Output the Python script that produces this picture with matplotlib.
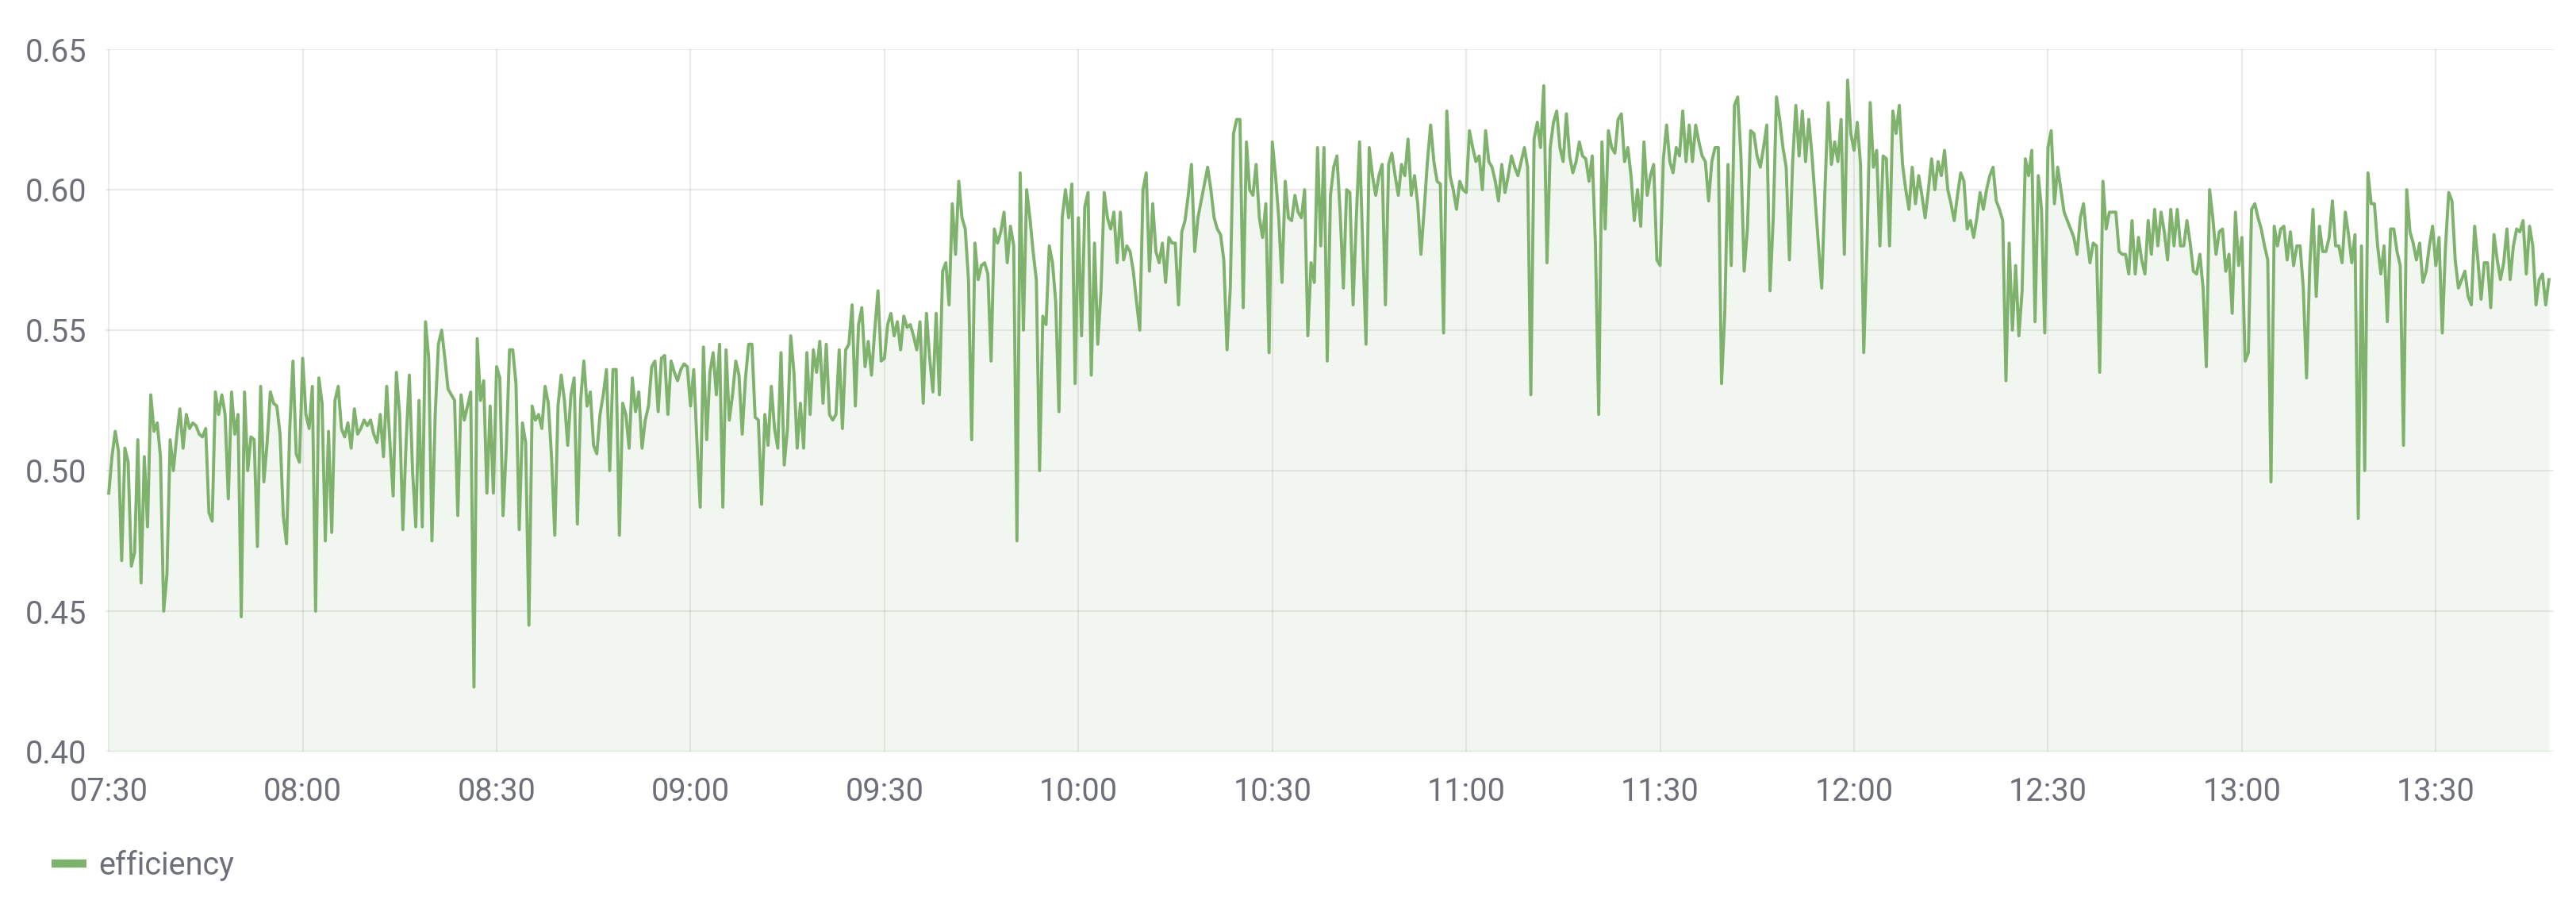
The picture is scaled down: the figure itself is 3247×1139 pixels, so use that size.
import matplotlib
matplotlib.use("Agg")
import matplotlib.pyplot as plt
import matplotlib.dates as mdates
from matplotlib.lines import Line2D
import pandas as pd

plt.rcParams['font.family'] = ['Roboto', 'DejaVu Sans']

# ---------------- data ----------------
series_name = "efficiency"
start_time = "2020-01-01 07:30:00"
sample_interval = "30s"
y_ticks = [0.40, 0.45, 0.50, 0.55, 0.60, 0.65]
x_tick_labels = ["07:30", "08:00", "08:30", "09:00", "09:30", "10:00",
                 "10:30", "11:00", "11:30", "12:00", "12:30", "13:00", "13:30"]

eff_0730 = [
    0.492, 0.505, 0.514, 0.507, 0.468, 0.508, 0.503, 0.466, 0.471, 0.511,
    0.460, 0.505, 0.480, 0.527, 0.514, 0.517, 0.505, 0.450, 0.463, 0.511,
    0.500, 0.512, 0.522, 0.508, 0.520, 0.515, 0.517, 0.516, 0.513, 0.512,
    0.515, 0.485, 0.482, 0.528, 0.520, 0.527, 0.520, 0.490, 0.528, 0.513,
    0.520, 0.448, 0.528, 0.500, 0.512, 0.511, 0.473, 0.530, 0.496, 0.510,
    0.528, 0.524, 0.523, 0.513, 0.484, 0.474, 0.515, 0.539, 0.506, 0.503,
    0.540, 0.520, 0.515, 0.530, 0.450, 0.533, 0.524, 0.475, 0.514, 0.478,
    0.525, 0.530, 0.515, 0.512, 0.517, 0.508, 0.522, 0.513, 0.515, 0.518,
    0.516, 0.518, 0.513, 0.510, 0.520, 0.505, 0.530, 0.510, 0.491, 0.535,
    0.520, 0.479, 0.510, 0.534, 0.500, 0.480, 0.525, 0.480,
]
eff_0819 = [
    0.553, 0.540, 0.475, 0.520, 0.545, 0.550, 0.540, 0.529, 0.527, 0.525,
    0.484, 0.527, 0.518, 0.523, 0.528, 0.423, 0.547, 0.525, 0.532, 0.492,
    0.523, 0.492, 0.537, 0.533, 0.484, 0.508, 0.543, 0.543, 0.531, 0.479,
    0.517, 0.510, 0.445, 0.523, 0.518, 0.520, 0.515, 0.530, 0.524, 0.505,
    0.477, 0.523, 0.534, 0.525, 0.509, 0.527, 0.533, 0.481, 0.525, 0.539,
    0.523, 0.528, 0.509, 0.506, 0.520, 0.527, 0.536, 0.500, 0.536, 0.536,
    0.477, 0.524, 0.520, 0.508, 0.533, 0.521, 0.528, 0.508, 0.518, 0.523,
    0.537, 0.539, 0.521, 0.540, 0.541, 0.520, 0.539, 0.535, 0.532, 0.536,
    0.538, 0.537, 0.523, 0.536, 0.510, 0.487, 0.544, 0.511, 0.535, 0.542,
    0.527, 0.545, 0.487, 0.543, 0.518,
]
eff_0906 = [
    0.527, 0.539, 0.534, 0.513, 0.533, 0.545, 0.545, 0.519, 0.518, 0.488,
    0.520, 0.509, 0.530, 0.515, 0.508, 0.542, 0.502, 0.515, 0.548, 0.535,
    0.508, 0.524, 0.508, 0.542, 0.520, 0.543, 0.535, 0.546, 0.524, 0.545,
    0.520, 0.518, 0.520, 0.543, 0.515, 0.543, 0.545, 0.559, 0.523, 0.552,
    0.558, 0.537, 0.546, 0.534, 0.550, 0.564, 0.539, 0.540, 0.552, 0.556,
    0.548, 0.553, 0.543, 0.555, 0.551, 0.552, 0.548, 0.543, 0.553, 0.524,
    0.556, 0.540, 0.528, 0.556, 0.527, 0.571, 0.574, 0.559, 0.595, 0.577,
    0.603, 0.590, 0.586, 0.568, 0.511, 0.581, 0.568, 0.573, 0.574, 0.570,
    0.539, 0.586, 0.581, 0.585, 0.592, 0.574, 0.587, 0.580, 0.475, 0.606,
    0.550, 0.600, 0.590, 0.578, 0.568, 0.500,
]
eff_0954 = [
    0.555, 0.552, 0.580, 0.574, 0.560, 0.521, 0.590, 0.600, 0.590, 0.602,
    0.531, 0.590, 0.548, 0.594, 0.599, 0.534, 0.581, 0.545, 0.564, 0.599,
    0.590, 0.586, 0.592, 0.574, 0.592, 0.575, 0.580, 0.578, 0.571, 0.560,
    0.550, 0.600, 0.606, 0.571, 0.595, 0.578, 0.574, 0.581, 0.567, 0.583,
    0.581, 0.581, 0.559, 0.585, 0.589, 0.598, 0.609, 0.578, 0.590, 0.596,
    0.602, 0.608, 0.600, 0.590, 0.586, 0.584, 0.575, 0.543, 0.565, 0.620,
    0.625, 0.625, 0.558, 0.617, 0.600, 0.598, 0.609, 0.590, 0.583, 0.595,
    0.542, 0.617, 0.605, 0.590, 0.567, 0.603, 0.590, 0.589, 0.598, 0.592,
    0.590, 0.600, 0.548, 0.574, 0.567, 0.615, 0.580, 0.615, 0.539, 0.598,
    0.608, 0.612, 0.592, 0.565, 0.600,
]
eff_1042 = [
    0.599, 0.559, 0.590, 0.617, 0.580, 0.545, 0.615, 0.605, 0.598, 0.605,
    0.609, 0.559, 0.609, 0.613, 0.605, 0.598, 0.609, 0.605, 0.618, 0.598,
    0.605, 0.595, 0.577, 0.593, 0.610, 0.623, 0.610, 0.603, 0.602, 0.549,
    0.628, 0.605, 0.600, 0.593, 0.603, 0.600, 0.599, 0.621, 0.615, 0.610,
    0.612, 0.600, 0.621, 0.610, 0.608, 0.603, 0.596, 0.609, 0.599, 0.605,
    0.612, 0.608, 0.605, 0.610, 0.615, 0.608, 0.527, 0.618, 0.624, 0.615,
    0.637, 0.574, 0.615, 0.624, 0.628, 0.615, 0.610, 0.627, 0.612, 0.606,
    0.610, 0.617, 0.612, 0.611, 0.603, 0.612, 0.580, 0.520, 0.617, 0.586,
    0.621, 0.615, 0.613, 0.625, 0.627, 0.610, 0.615, 0.605, 0.589, 0.600,
    0.587, 0.617, 0.598, 0.605, 0.609, 0.575,
]
eff_1130 = [
    0.573, 0.611, 0.623, 0.610, 0.606, 0.615, 0.612, 0.628, 0.610, 0.623,
    0.610, 0.623, 0.617, 0.612, 0.610, 0.596, 0.610, 0.615, 0.615, 0.531,
    0.556, 0.609, 0.573, 0.630, 0.633, 0.612, 0.571, 0.586, 0.621, 0.620,
    0.612, 0.608, 0.615, 0.623, 0.564, 0.590, 0.633, 0.625, 0.615, 0.608,
    0.575, 0.610, 0.630, 0.612, 0.628, 0.610, 0.625, 0.612, 0.596, 0.580,
    0.565, 0.600, 0.631, 0.609, 0.617, 0.610, 0.625, 0.577, 0.639, 0.620,
    0.614, 0.624, 0.609, 0.542, 0.580, 0.631, 0.608, 0.614, 0.580, 0.612,
    0.611, 0.580, 0.628, 0.620, 0.630, 0.609, 0.600, 0.593, 0.608, 0.595,
    0.605, 0.598, 0.590, 0.600, 0.611, 0.600, 0.610, 0.605, 0.614, 0.600,
    0.595, 0.589, 0.598, 0.606, 0.603, 0.586,
]
eff_1218 = [
    0.589, 0.583, 0.590, 0.599, 0.593, 0.600, 0.605, 0.608, 0.596, 0.593,
    0.589, 0.532, 0.581, 0.550, 0.573, 0.548, 0.564, 0.611, 0.605, 0.614,
    0.553, 0.605, 0.593, 0.549, 0.615, 0.621, 0.595, 0.608, 0.600, 0.592,
    0.589, 0.586, 0.583, 0.577, 0.590, 0.595, 0.583, 0.574, 0.581, 0.580,
    0.535, 0.603, 0.586, 0.592, 0.592, 0.592, 0.578, 0.577, 0.577, 0.570,
    0.589, 0.570, 0.583, 0.575, 0.570, 0.589, 0.577, 0.593, 0.580, 0.592,
    0.585, 0.575, 0.593, 0.580, 0.593, 0.580, 0.580, 0.589, 0.581, 0.571,
    0.570, 0.577, 0.565, 0.537, 0.600, 0.590, 0.577, 0.585, 0.586, 0.571,
    0.577, 0.556, 0.592, 0.573, 0.583, 0.539, 0.542, 0.593, 0.595, 0.590,
    0.586, 0.580, 0.575, 0.496, 0.587, 0.580,
]
eff_1306 = [
    0.586, 0.587, 0.575, 0.585, 0.573, 0.580, 0.580, 0.565, 0.533, 0.573,
    0.593, 0.562, 0.587, 0.578, 0.578, 0.583, 0.596, 0.580, 0.580, 0.574,
    0.592, 0.584, 0.574, 0.584, 0.483, 0.580, 0.500, 0.606, 0.595, 0.595,
    0.580, 0.570, 0.580, 0.553, 0.586, 0.586, 0.578, 0.573, 0.509, 0.600,
    0.585, 0.581, 0.575, 0.581, 0.567, 0.571, 0.580, 0.587, 0.573, 0.583,
    0.549, 0.580, 0.599, 0.596, 0.575, 0.565, 0.568, 0.571, 0.562, 0.559,
    0.587, 0.575, 0.561, 0.574, 0.574, 0.558, 0.584, 0.575, 0.568, 0.574,
    0.586, 0.568, 0.580, 0.586, 0.585, 0.589, 0.570, 0.587, 0.580, 0.559,
    0.568, 0.570, 0.559, 0.568,
]

values = eff_0730 + eff_0819 + eff_0906 + eff_0954 + eff_1042 + eff_1130 + eff_1218 + eff_1306
times = pd.date_range(start_time, periods=len(values), freq=sample_interval)

# ---------------- figure ----------------
W, H = 3248, 1139
LINE = "#7EB26D"
TEXT = "#6e7079"

fig = plt.figure(figsize=(W / 100, H / 100), dpi=100)
ax = fig.add_axes([133 / W, 1 - 947 / H, (3219 - 133) / W, (947 - 62) / H])

ax.fill_between(times, values, y_ticks[0], color=LINE, alpha=0.10, lw=0, zorder=1)
ax.plot(times, values, color=LINE, lw=2.8, zorder=3)

ax.set_ylim(y_ticks[0], y_ticks[-1])
ax.set_xlim(pd.Timestamp("2020-01-01 07:29:30"), pd.Timestamp("2020-01-01 13:48:15"))

ax.set_yticks(y_ticks)
ax.set_yticklabels([f"{v:.2f}" for v in y_ticks])
x_ticks = [pd.Timestamp("2020-01-01 " + t) for t in x_tick_labels]
ax.set_xticks(x_ticks)
ax.set_xticklabels(x_tick_labels)

ax.grid(True, color="black", alpha=0.08, lw=1.6, zorder=0)
ax.set_axisbelow(True)
for s in ax.spines.values():
    s.set_visible(False)
ax.tick_params(axis="both", length=0, labelsize=28.5, colors=TEXT)
ax.tick_params(axis="y", pad=17)
ax.tick_params(axis="x", pad=22)

fig.legend(handles=[Line2D([0], [0], color=LINE, lw=7.5, solid_capstyle="butt")],
           labels=[series_name], loc="center left",
           bbox_to_anchor=(65 / W, 1 - 1090 / H), frameon=False,
           handlelength=1.1, handletextpad=0.4, borderpad=0, borderaxespad=0,
           fontsize=28.5, labelcolor=TEXT)

fig.savefig("out.png", dpi=100, facecolor="white")
